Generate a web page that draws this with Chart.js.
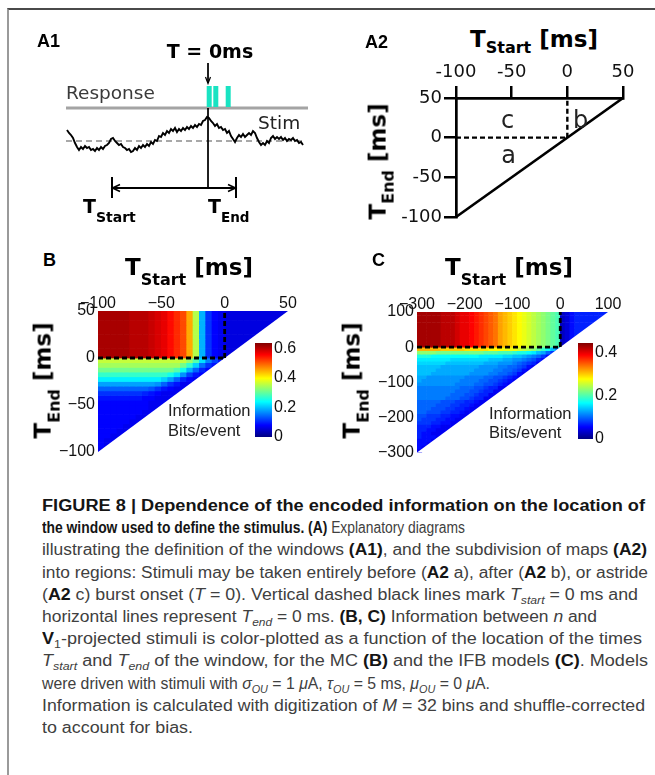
<!DOCTYPE html>
<html><head><meta charset="utf-8">
<script src="https://cdn.jsdelivr.net/npm/chart.js@4.4.1/dist/chart.umd.min.js"></script>
<style>
html,body{margin:0;padding:0;background:#fff;}
#page{position:relative;width:655px;height:775px;overflow:hidden;background:#fff;}
#frame{position:absolute;left:7px;top:8px;width:700px;height:800px;border-top:2px solid #4a4a4a;border-left:2px solid #9a9a9a;}
canvas{position:absolute;}
.t{position:absolute;white-space:nowrap;line-height:1;}
.cap{position:absolute;left:42px;white-space:nowrap;font-family:'Liberation Sans',Arial,sans-serif;font-size:16px;line-height:16px;color:#404040;transform-origin:0 0;}
.cap b{color:#151515;}
.cap .s{font-size:11px;position:relative;top:4px;}
</style></head><body><div id="page"><div id="frame"></div></div>
<script>
// ================= DATA =================
// A1: stimulus trace (time in ms relative to burst onset, amplitude in arbitrary units)
const a1StimTime = [-141,-139,-137,-135,-133,-131,-129,-127,-125,-123,
 -121,-119,-117,-115,-113,-111,-109,-107,-105,-103,
 -101,-99,-97,-95,-93,-91,-89,-87,-85,-83,
 -81,-79,-77,-75,-73,-71,-69,-67,-65,-63,
 -61,-59,-57,-55,-53,-51,-49,-47,-45,-43,
 -41,-39,-37,-35,-33,-31,-29,-27,-25,-23,
 -21,-19,-17,-15,-13,-11,-9,-7,-5,-3,
 -1,1,3,5,7,9,11,13,15,17,
 19,21,23,25,27,29,31,33,35,37,
 39,41,43,45,47,49,51,53,55,57,
 59,61,63,65,67,69,71,73,75,77,
 79,81,83,85,87,89,91,93,95];
const a1StimValue = [11,8,6,3,-2,-6,-9,-6,-8,-5,
 -7,-6,-9,-8,-10,-7,-9,-6,-8,-5,
 -4,-2,2,3,0,-2,-4,-3,-6,-7,
 -9,-8,-11,-10,-7,-9,-5,-7,-4,-6,
 -3,-5,-1,-3,1,0,5,4,8,6,
 10,8,12,10,13,9,12,10,13,11,
 14,12,15,13,16,14,17,16,20,21,
 24,23,20,18,15,17,13,14,11,12,
 8,10,5,2,-1,3,6,4,7,4,
 6,8,6,10,8,3,-1,-4,-2,-4,
 0,-2,3,5,2,4,2,4,1,3,
 0,2,1,3,0,1,-2,-1,-4];
const a1SpikeTimes = [1.2, 7.8, 20.2];
const a1WindowEdges = [-96, 28];   // T_start, T_end

// A2
const a2TicksX = [-100, -50, 0, 50];
const a2TicksY = [-100, -50, 0, 50];

// B (MC model), information in units of 0.01 bits/event, 5 ms cells
const bTicksX = [-100, -50, 0, 50];
const bTicksY = [-100, -50, 0, 50];
const bBarTicks = [0, 0.2, 0.4, 0.6];
const bVmax = 0.635;
const bStarts = [-97.5,-92.5,-87.5,-82.5,-77.5,-72.5,-67.5,-62.5,-57.5,-52.5,-47.5,-42.5,-37.5,-32.5,-27.5,-22.5,-17.5,-12.5,-7.5,-2.5,2.5,7.5,12.5,17.5,22.5,27.5,32.5,37.5,42.5,47.5];
const bUpperEnds = [47.5,42.5,37.5,32.5,27.5,22.5,17.5,12.5,7.5,2.5];
const bUpperProfile = [61,61,61,61,61,60,60,60,59,58,57,55,53,51,45,35,19,11,8,7,6,6,6,6,6,6,6,6,6,6];
const bLowerEnds = [-2.5,-7.5,-12.5,-17.5,-22.5,-27.5,-32.5,-37.5,-42.5,-47.5,-52.5,-57.5,-62.5,-67.5,-72.5,-77.5,-82.5,-87.5,-92.5,-97.5];
const bLowerRows = [
 [36,36,36,36,36,36,36,36,36,36,36,36,36,36,33,29,22,16,12,9],
 [34,34,34,34,34,34,34,34,34,34,34,34,34,31,27,21,15,11,9],
 [31,31,31,31,31,31,31,31,31,31,31,31,29,25,19,14,10,8],
 [27,27,27,27,27,27,27,27,27,27,27,25,22,17,12,9,8],
 [23,23,23,23,23,23,23,23,23,23,21,18,14,10,8,7],
 [18,18,18,18,18,18,18,18,18,17,14,11,9,7,7],
 [14,14,14,14,14,14,14,14,13,11,9,8,7,7],
 [11,11,11,11,11,11,11,10,9,8,7,7,7],
 [9,9,9,9,9,9,9,8,8,7,7,7],
 [8,8,8,8,8,8,8,8,7,7,7],
 [8,8,8,8,8,8,8,8,7,7],
 [8,8,8,8,8,8,8,7,7],
 [8,8,8,8,8,8,7,7],
 [8,8,8,8,8,7,7],
 [8,8,8,8,7,7],
 [8,8,8,7,7],
 [8,8,7,7],
 [8,7,7],
 [8,7],
 [7]];

// C (IFB model), 10 ms cells
const cTicksX = [-300, -200, -100, 0, 100];
const cTicksY = [-300, -200, -100, 0, 100];
const cBarTicks = [0, 0.2, 0.4];
const cVmax = 0.446;
const cStarts = [-295,-285,-275,-265,-255,-245,-235,-225,-215,-205,-195,-185,-175,-165,-155,-145,-135,-125,-115,-105,-95,-85,-75,-65,-55,-45,-35,-25,-15,-5,5,15,25,35,45,55,65,75,85,95];
const cUpperEnds = [95,85,75,65,55,45,35,25,15,5];
const cUpperProfile = [43,43,43,43,43,42,42,42,41,40,40,39,38,37,36,35,34,32,31,30,29,28,27,26,25,24,23,22,21,20,3,4,6,7,7,7,7,7,7,7];
const cLowerEnds = [-5,-15,-25,-35,-45,-55,-65,-75,-85,-95,-105,-115,-125,-135,-145,-155,-165,-175,-185,-195,-205,-215,-225,-235,-245,-255,-265,-275,-285,-295];
const cLowerRows = [
 [31,31,31,31,31,30,30,30,30,30,29,29,29,29,29,28,28,28,27,27,27,26,25,24,23,21,19,17,14,11],
 [23,23,23,23,22,22,22,22,22,22,22,22,22,22,21,21,21,20,20,20,19,18,18,17,16,14,13,10,8],
 [18,18,18,17,17,17,17,17,17,17,17,17,17,16,16,16,16,16,15,15,14,14,13,12,11,10,8,6],
 [16,16,16,16,16,16,16,15,15,15,15,15,15,15,15,14,14,14,13,13,12,12,11,10,9,7,6],
 [15,15,15,15,15,15,14,14,14,14,14,14,14,14,13,13,13,12,12,12,11,10,9,8,7,5],
 [14,14,14,14,14,13,13,13,13,13,13,13,13,12,12,12,12,11,11,10,10,9,8,6,5],
 [14,14,14,14,13,13,13,13,13,13,13,13,12,12,12,12,11,11,10,10,9,8,6,5],
 [14,14,14,13,13,13,13,13,13,13,13,12,12,12,12,11,11,10,10,9,8,6,5],
 [13,13,12,12,12,12,12,12,12,12,11,11,11,11,10,10,9,9,8,7,6,5],
 [13,12,12,12,12,12,12,12,12,11,11,11,11,10,10,9,9,8,7,6,5],
 [12,12,12,12,12,12,12,12,11,11,11,11,10,10,9,9,8,7,6,5],
 [11,11,11,11,11,11,11,11,11,10,10,10,9,9,8,7,7,5,5],
 [11,11,11,11,11,11,11,11,10,10,10,9,9,8,7,7,5,5],
 [11,11,11,11,11,11,11,10,10,10,9,9,8,7,7,5,5],
 [11,11,11,11,11,11,10,10,10,9,9,8,7,7,5,5],
 [10,10,10,10,10,9,9,9,8,8,7,7,6,5,5],
 [10,10,10,10,9,9,9,8,8,7,7,6,5,5],
 [10,10,10,9,9,9,8,8,7,7,6,5,5],
 [10,10,9,9,9,8,8,7,7,6,5,5],
 [9,9,8,8,8,7,7,6,6,5,5],
 [9,8,8,8,7,7,6,6,5,5],
 [8,8,8,7,7,6,6,5,5],
 [7,7,7,6,6,5,5,5],
 [7,7,6,6,5,5,5],
 [7,6,6,5,5,5],
 [7,6,6,6,5],
 [6,6,6,5],
 [6,6,5],
 [6,5],
 [5]];

// ================= HELPERS =================
const page = document.getElementById('page');
function jet(n){
  n = Math.max(0, Math.min(1, n));
  const c = x => Math.round(255*Math.max(0, Math.min(1, x)));
  return 'rgb(' + c(1.5-Math.abs(4*n-3)) + ',' + c(1.5-Math.abs(4*n-2)) + ',' + c(1.5-Math.abs(4*n-1)) + ')';
}
function makeCanvas(x, y, w, h){
  const c = document.createElement('canvas');
  c.width = w; c.height = h;
  c.style.left = x+'px'; c.style.top = y+'px'; c.style.width = w+'px'; c.style.height = h+'px';
  page.appendChild(c);
  return c;
}
function txt(html, x, base, size, o){
  o = o || {};
  const d = document.createElement('div');
  d.className = 't';
  d.innerHTML = html;
  d.style.fontSize = size+'px';
  d.style.fontFamily = o.family || "'DejaVu Sans'";
  d.style.fontWeight = o.bold ? 'bold' : 'normal';
  d.style.color = o.color || '#111';
  d.style.left = x+'px';
  d.style.top = (base - 0.846*size)+'px';
  if (o.align === 'center') d.style.transform = 'translateX(-50%)';
  page.appendChild(d);
  return d;
}
function rotTxt(html, baseX, cy, size, o){
  o = o || {};
  const d = document.createElement('div');
  d.className = 't';
  d.innerHTML = html;
  d.style.fontSize = size+'px';
  d.style.fontFamily = o.family || "'DejaVu Sans'";
  d.style.fontWeight = o.bold ? 'bold' : 'normal';
  d.style.color = o.color || '#111';
  page.appendChild(d);
  const w = d.offsetWidth, h = d.offsetHeight;
  const cx = baseX - 0.346*size;
  d.style.left = (cx - w/2)+'px';
  d.style.top = (cy - h/2)+'px';
  d.style.transform = 'rotate(-90deg)';
  return d;
}
const baseOpts = {responsive:false, animation:false, devicePixelRatio:1, events:[],
  plugins:{legend:{display:false}, tooltip:{enabled:false}}};
const minusFmt = v => (v < 0 ? '\u2212' + Math.abs(v) : String(v));
function seg(points, color, width, extra){
  return Object.assign({data: points, borderColor: color, borderWidth: width, showLine: true,
    pointRadius: 0, fill: false, clip: false, tension: 0}, extra || {});
}

// ================= A1 =================
(function(){
  const c = makeCanvas(60, 50, 260, 185);
  const X0 = 208, Y0 = 141; // page px of t=0, amplitude 0
  const stim = a1StimTime.map((t,i)=>({x:t, y:a1StimValue[i]}));
  const ds = [];
  ds.push(seg(stim, '#000', 1.9, {order:1, borderJoinStyle:'miter'}));
  ds.push(seg([{x:-142,y:33},{x:100,y:33}], '#a4a4a4', 3, {order:6}));
  ds.push(seg([{x:-142,y:0},{x:97,y:0}], '#a8a8a8', 2, {borderDash:[6,4], order:6}));
  a1SpikeTimes.forEach(t => ds.push(seg([{x:t,y:34},{x:t,y:55}], '#19e3c2', 5, {borderCapStyle:'butt', order:5})));
  ds.push(seg([{x:0,y:33},{x:0,y:-47}], '#000', 1, {order:2}));
  ds.push(seg([{x:0,y:78},{x:0,y:58}], '#000', 1, {order:2}));
  ds.push(seg([{x:-2.5,y:64},{x:0,y:57.5},{x:2.5,y:64}], '#000', 1.2, {order:2}));
  const [ts, te] = a1WindowEdges;
  ds.push(seg([{x:ts,y:-47},{x:te,y:-47}], '#000', 2, {order:2}));
  ds.push(seg([{x:ts,y:-36},{x:ts,y:-57}], '#000', 2, {order:2}));
  ds.push(seg([{x:te,y:-36},{x:te,y:-57}], '#000', 2, {order:2}));
  ds.push(seg([{x:ts+8,y:-43.5},{x:ts+0.5,y:-47},{x:ts+8,y:-50.5}], '#000', 1.6, {order:2}));
  ds.push(seg([{x:te-8,y:-43.5},{x:te-0.5,y:-47},{x:te-8,y:-50.5}], '#000', 1.6, {order:2}));
  new Chart(c, {
    type:'scatter',
    data:{datasets: ds},
    options: Object.assign({}, baseOpts, {
      layout:{padding:0},
      scales:{
        x:{type:'linear', display:false, min:60-X0, max:320-X0},
        y:{type:'linear', display:false, min:Y0-235, max:Y0-50}
      }
    })
  });
  txt('A1', 37, 47, 18, {family:"'Liberation Sans'", bold:true, color:'#000'});
  txt('T = 0ms', 210, 58, 19, {bold:true, align:'center', color:'#000'});
  txt('Response', 66, 100, 18.5, {color:'#3a3a3a'});
  txt('Stim', 258, 130, 18.5, {color:'#222'});
  txt('T<span style="font-size:14px;position:relative;top:9px">Start</span>', 83, 213, 19, {bold:true, color:'#000'});
  txt('T<span style="font-size:13.5px;position:relative;top:9px">End</span>', 208, 213, 19, {bold:true, color:'#000'});
})();

// ================= A2 =================
(function(){
  const cl = 400, ct = 60, cw = 240, ch = 170;
  const L = 456, T = 98, R = 623, B = 217;
  const c = makeCanvas(cl, ct, cw, ch);
  const ds = [
    seg([{x:-100,y:-100},{x:50,y:50}], '#000', 2.7),
    seg([{x:-100,y:0},{x:0,y:0}], '#000', 2.4, {borderDash:[5,3]}),
    seg([{x:0,y:0},{x:0,y:50}], '#000', 2.4, {borderDash:[5,3]})
  ];
  const tickFont = {family:"'DejaVu Sans'", size:18};
  new Chart(c, {
    type:'scatter',
    data:{datasets: ds},
    options: Object.assign({}, baseOpts, {
      layout:{padding:{left:0, top:0, right:cl+cw-R, bottom:ct+ch-B}},
      scales:{
        x:{type:'linear', position:'top', min:-100, max:50,
           afterBuildTicks: a => { a.ticks = a2TicksX.map(v=>({value:v})); },
           afterFit: a => { a.height = T - ct; },
           ticks:{font:tickFont, color:'#111', padding:3, maxRotation:0, autoSkip:false},
           grid:{drawOnChartArea:false, drawTicks:true, tickLength:12, lineWidth:2.5, color:'#000'},
           border:{display:true, width:2.7, color:'#000'}},
        y:{type:'linear', position:'left', min:-100, max:50,
           afterBuildTicks: a => { a.ticks = a2TicksY.map(v=>({value:v})); },
           afterFit: a => { a.width = L - cl; },
           ticks:{font:tickFont, color:'#111', padding:2, autoSkip:false},
           grid:{drawOnChartArea:false, drawTicks:true, tickLength:12, lineWidth:2.5, color:'#000'},
           border:{display:true, width:2.7, color:'#000'}}
      }
    })
  });
  txt('A2', 365, 48, 18, {family:"'Liberation Sans'", bold:true, color:'#000'});
  txt('T<span style="font-size:16px;position:relative;top:6.5px">Start</span> [ms]', 470, 47, 23, {bold:true, color:'#000'});
  rotTxt('T<span style="font-size:16px;position:relative;top:8px">End</span> [ms]', 386, 161.5, 23, {bold:true, color:'#000'});
  txt('c', 507.5, 128, 24, {align:'center', color:'#222'});
  txt('b', 573, 128, 24, {color:'#222'});
  txt('a', 508.5, 163, 24, {align:'center', color:'#222'});
})();

// ================= HEATMAPS =================
function heatmap(o){
  const c = makeCanvas(o.cl, o.ct, o.cw, o.ch);
  const datasets = [];
  const addRow = (e, vals) => {
    datasets.push({
      type:'bar',
      data: vals.map((v,i)=>({x:o.starts[i], y:[e - o.cellH/2, e + o.cellH/2]})),
      backgroundColor: vals.map(v=>jet(v/100/o.vmax)),
      borderWidth:0, grouped:false, barPercentage:1, categoryPercentage:1, order:10
    });
  };
  o.upperEnds.forEach(e => addRow(e, o.upperProfile.filter((v,i)=>o.starts[i] <= e)));
  o.lowerEnds.forEach((e,j) => addRow(e, o.lowerRows[j]));
  datasets.push({type:'line', data:[{x:o.xmin,y:o.ymin},{x:o.xmax,y:o.ymax}], fill:'start',
    backgroundColor:'#ffffff', borderColor:'rgba(0,0,0,0)', borderWidth:0, pointRadius:0, order:2, tension:0});
  datasets.push({type:'line', data:[{x:o.xmin,y:0},{x:0,y:0}], borderColor:'#000', borderWidth:2.8,
    borderDash:[5,3], pointRadius:0, fill:false, order:1, clip:false});
  datasets.push({type:'line', data:[{x:0,y:0},{x:0,y:o.ymax}], borderColor:'#000', borderWidth:2.8,
    borderDash:[5,3], pointRadius:0, fill:false, order:1, clip:false});
  const tickFont = {family:"'Liberation Sans'", size:16};
  new Chart(c, {
    type:'bar',
    data:{datasets},
    options: Object.assign({}, baseOpts, {
      layout:{padding:{left:0, top:0, right:o.cl+o.cw-o.R, bottom:o.ct+o.ch-o.B}},
      scales:{
        x:{type:'linear', position:'top', min:o.xmin, max:o.xmax, offset:false,
           afterBuildTicks: a => { a.ticks = o.ticksX.map(v=>({value:v})); },
           afterFit: a => { a.height = o.T - o.ct; },
           ticks:{font:tickFont, color:'#111', padding:-2, maxRotation:0, autoSkip:false, callback:minusFmt},
           grid:{display:false, drawTicks:false}, border:{display:false}},
        y:{type:'linear', position:'left', min:o.ymin, max:o.ymax,
           afterBuildTicks: a => { a.ticks = o.ticksY.map(v=>({value:v})); },
           afterFit: a => { a.width = o.L - o.cl; },
           ticks:{font:tickFont, color:'#111', padding:3, autoSkip:false, callback:minusFmt},
           grid:{display:false, drawTicks:false}, border:{display:false}}
      }
    })
  });
  // colour bar
  const cb = makeCanvas(o.bcl, o.bct, o.bcw, o.bch);
  new Chart(cb, {
    type:'bar',
    data:{labels:['info'], datasets:[{data:[[0, o.vmax]], borderWidth:0, barPercentage:1, categoryPercentage:1,
      backgroundColor: ctx => {
        const a = ctx.chart.chartArea; if (!a) return '#00f';
        const g = ctx.chart.ctx.createLinearGradient(0, a.bottom, 0, a.top);
        g.addColorStop(0, '#000080'); g.addColorStop(0.125, '#0000ff'); g.addColorStop(0.375, '#00ffff');
        g.addColorStop(0.625, '#ffff00'); g.addColorStop(0.875, '#ff0000'); g.addColorStop(1, '#800000');
        return g;
      }}]},
    options: Object.assign({}, baseOpts, {
      layout:{padding:{left:o.bL-o.bcl, top:o.bT-o.bct, right:0, bottom:o.bct+o.bch-o.bB}},
      scales:{
        x:{display:false},
        y:{type:'linear', position:'right', min:0, max:o.vmax,
           afterBuildTicks: a => { a.ticks = o.barTicks.map(v=>({value:v})); },
           afterFit: a => { a.width = o.bcl + o.bcw - o.bR; },
           ticks:{font:tickFont, color:'#111', padding:2, autoSkip:false},
           grid:{display:false, drawTicks:false}, border:{display:false}}
      }
    })
  });
}

heatmap({cl:40, ct:285, cw:260, ch:180, L:98, T:311, R:288, B:452,
  xmin:-100, xmax:50, ymin:-100, ymax:50, ticksX:bTicksX, ticksY:bTicksY,
  starts:bStarts, upperEnds:bUpperEnds, upperProfile:bUpperProfile, lowerEnds:bLowerEnds, lowerRows:bLowerRows,
  cellH:5, vmax:bVmax, barTicks:bBarTicks,
  bcl:250, bct:330, bcw:50, bch:120, bL:255, bT:343, bR:272, bB:437});
heatmap({cl:360, ct:285, cw:265, ch:180, L:417, T:312, R:608, B:454,
  xmin:-300, xmax:100, ymin:-300, ymax:100, ticksX:cTicksX, ticksY:cTicksY,
  starts:cStarts, upperEnds:cUpperEnds, upperProfile:cUpperProfile, lowerEnds:cLowerEnds, lowerRows:cLowerRows,
  cellH:10, vmax:cVmax, barTicks:cBarTicks,
  bcl:573, bct:330, bcw:52, bch:122, bL:578, bT:343, bR:593, bB:439});

// heatmap texts
txt('B', 43, 266, 18, {family:"'Liberation Sans'", bold:true, color:'#000'});
txt('C', 372, 266, 18, {family:"'Liberation Sans'", bold:true, color:'#000'});
txt('T<span style="font-size:16px;position:relative;top:10px">Start</span> [ms]', 125, 275, 23, {bold:true, color:'#000'});
txt('T<span style="font-size:16px;position:relative;top:10px">Start</span> [ms]', 445, 275, 23, {bold:true, color:'#000'});
rotTxt('T<span style="font-size:16px;position:relative;top:9px">End</span> [ms]', 51, 380, 23, {bold:true, color:'#000'});
rotTxt('T<span style="font-size:16px;position:relative;top:9px">End</span> [ms]', 360, 380, 23, {bold:true, color:'#000'});
txt('Information', 168, 416, 16.5, {family:"'Liberation Sans'", color:'#222'});
txt('Bits/event', 168, 436, 16.5, {family:"'Liberation Sans'", color:'#222'});
txt('Information', 489, 419, 16.5, {family:"'Liberation Sans'", color:'#222'});
txt('Bits/event', 489, 438, 16.5, {family:"'Liberation Sans'", color:'#222'});

// ================= CAPTION =================
const captionLines = [
 '<b>FIGURE 8 | Dependence of the encoded information on the location of</b>',
 '<b>the window used to define the stimulus. (A)</b> Explanatory diagrams',
 'illustrating the definition of the windows <b>(A1)</b>, and the subdivision of maps <b>(A2)</b>',
 'into regions: Stimuli may be taken entirely before (<b>A2</b> a), after (<b>A2</b> b), or astride',
 '(<b>A2</b> c) burst onset (<i>T</i> = 0). Vertical dashed black lines mark <i>T<span class="s">start</span></i> = 0 ms and',
 'horizontal lines represent <i>T<span class="s">end</span></i> = 0 ms. <b>(B, C)</b> Information between <i>n</i> and',
 '<b>V</b><span class="s">1</span>-projected stimuli is color-plotted as a function of the location of the times',
 '<i>T<span class="s">start</span></i> and <i>T<span class="s">end</span></i> of the window, for the MC <b>(B)</b> and the IFB models <b>(C)</b>. Models',
 'were driven with stimuli with <i>\u03c3<span class="s">OU</span></i> = 1 <i>\u03bc</i>A, <i>\u03c4<span class="s">OU</span></i> = 5 ms, <i>\u03bc<span class="s">OU</span></i> = 0 <i>\u03bc</i>A.',
 'Information is calculated with digitization of <i>M</i> = 32 bins and shuffle-corrected',
 'to account for bias.'
];
const capRight = [645, 465, 647, 648, 638, 597, 642, 648, 490, 645, 193];
captionLines.forEach((html, i) => {
  const d = document.createElement('div');
  d.className = 'cap';
  d.innerHTML = html;
  d.style.top = (511.5 + 22.2*i - 0.846*16) + 'px';
  page.appendChild(d);
  const w = d.getBoundingClientRect().width;
  d.style.transform = 'scaleX(' + ((capRight[i] - 42) / w).toFixed(4) + ')';
});
</script></body></html>
